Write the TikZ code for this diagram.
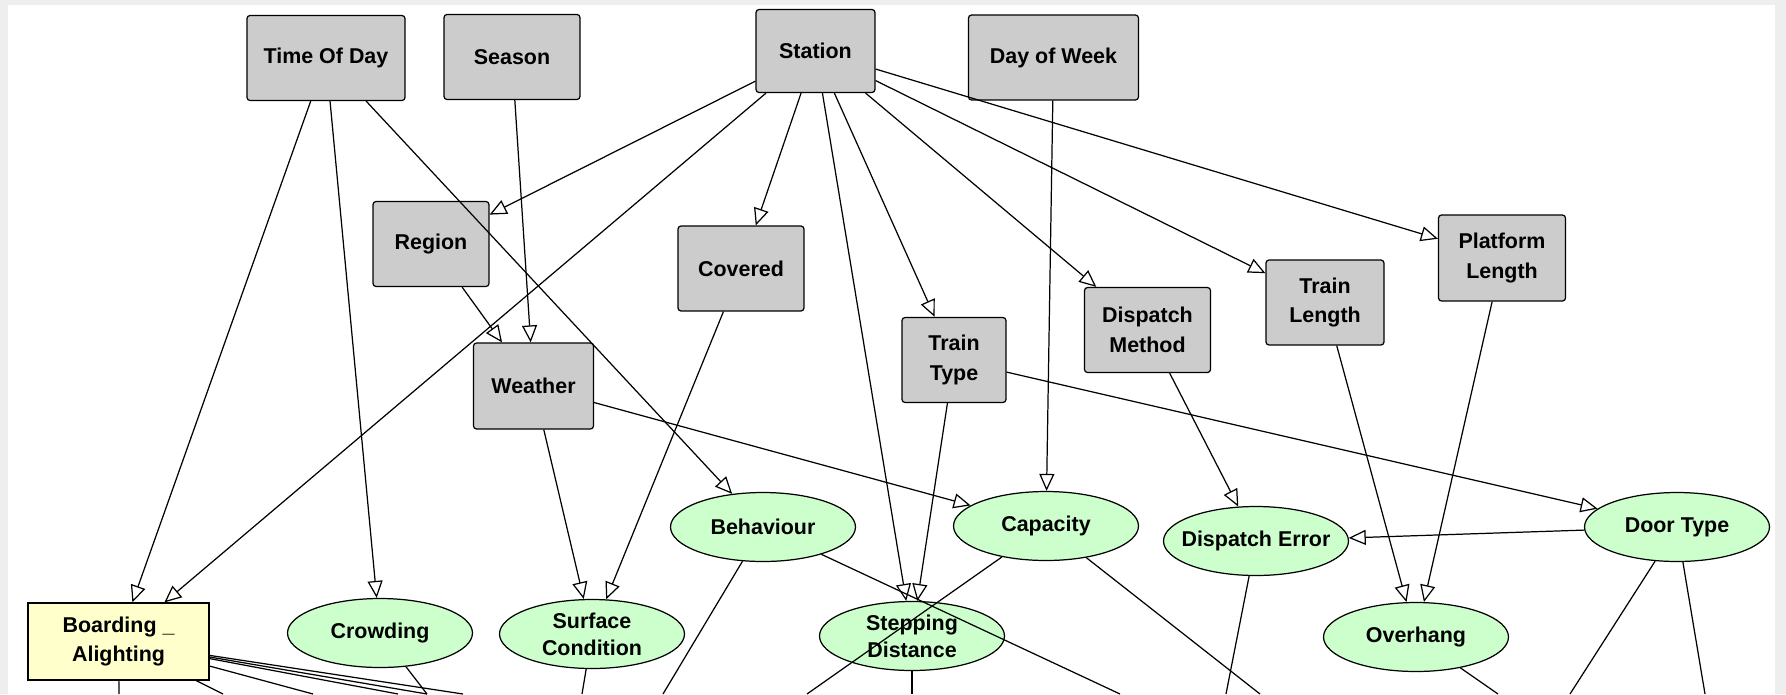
\documentclass[tikz,border=0pt]{standalone}
\usepackage{fontspec}
\setmainfont{Liberation Sans}
\usetikzlibrary{arrows.meta, shapes.geometric}
\definecolor{boxgrey}{RGB}{204,204,204}
\definecolor{mygreen}{RGB}{204,255,204}
\definecolor{myyellow}{RGB}{255,255,204}
\definecolor{framegrey}{RGB}{238,238,238}
\tikzset{>={Triangle[open, length=0.34cm, width=0.3cm]}}
\tikzset{
  cause/.style = {draw, line width=0.7pt, fill=boxgrey, rounded corners=0.06cm, inner sep=0pt,
    minimum height=1.7cm, align=center, font=\bfseries\fontsize{12.2}{17}\selectfont},
  query/.style = {draw, line width=0.7pt, fill=myyellow, inner sep=0pt, minimum width=3.62cm,
    minimum height=1.54cm, align=center, font=\bfseries\fontsize{12.2}{16.2}\selectfont},
  effect/.style = {draw, line width=0.7pt, fill=mygreen, ellipse, inner xsep=-0.5cm, inner ysep=0pt,
    minimum width=3.7cm, minimum height=1.38cm, align=center, font=\bfseries\fontsize{12.2}{15.2}\selectfont},
  link/.style = {line width=0.7pt}
}

\begin{document}
\begin{tikzpicture}[x=0.02cm, y=-0.02cm]
\useasboundingbox (0,0) rectangle (1786,694);
\fill[framegrey] (0,0) rectangle (1786,694);
\fill[white] (8,5) rectangle (1775,694);

% top row
\node[cause, minimum width=3.16cm] (tod) at (326,58) {Time Of Day};
\node[cause, minimum width=2.72cm] (season) at (512,57) {Season};
\node[cause, minimum width=2.38cm, minimum height=1.66cm] (station) at (815.5,51) {Station};
\node[cause, minimum width=3.4cm] (dow) at (1053.5,57.5) {Day of Week};

% second row
\node[cause, minimum width=2.32cm] (region) at (431,244) {Region};
\node[cause, minimum width=2.52cm] (covered) at (741,268.5) {Covered};
\node[cause, minimum width=2.4cm, minimum height=1.72cm] (weather) at (533.5,386) {Weather};
\node[cause, minimum width=2.08cm] (ttype) at (954,360) {Train\\Type};
\node[cause, minimum width=2.52cm] (dmethod) at (1147.5,330) {Dispatch\\Method};
\node[cause, minimum width=2.36cm] (tlength) at (1325,302.5) {Train\\Length};
\node[cause, minimum width=2.54cm, minimum height=1.72cm] (plength) at (1502,258) {Platform\\Length};

% lower row
\node[query] (board) at (118.5,641.5) {Boarding \_\\Alighting};
\node[effect] (crowd) at (380,633) {Crowding};
\node[effect] (surface) at (592,634) {Surface\\Condition};
\node[effect] (behav) at (763,527) {Behaviour};
\node[effect] (capac) at (1046,526) {Capacity};
\node[effect] (stepd) at (912,636) {Stepping\\Distance};
\node[effect] (derror) at (1256,541) {Dispatch Error};
\node[effect] (door) at (1677,527) {Door Type};
\node[effect] (overhang) at (1416,637) {Overhang};

\draw[->, link] (tod) -- (board);
\draw[->, link] (tod) -- (crowd);
\draw[->, link] (tod) -- (behav);
\draw[->, link] (season) -- (weather);
\draw[->, link] (region) -- (weather);
\draw[->, link] (station) -- (region);
\draw[->, link] (station) -- (board);
\draw[->, link] (station) -- (covered);
\draw[->, link] (station) -- (stepd);
\draw[->, link] (station) -- (ttype);
\draw[->, link] (station) -- (dmethod);
\draw[->, link] (station) -- (tlength);
\draw[->, link] (station) -- (plength);
\draw[->, link] (dow) -- (capac);
\draw[->, link] (covered) -- (surface);
\draw[->, link] (weather) -- (surface);
\draw[->, link] (weather) -- (capac);
\draw[->, link] (ttype) -- (stepd);
\draw[->, link] (ttype) -- (door);
\draw[->, link] (dmethod) -- (derror);
\draw[->, link] (tlength) -- (overhang);
\draw[->, link] (plength) -- (overhang);
\draw[->, link] (door) -- (derror);

% links running off the bottom edge
\coordinate (b1) at (119,694);
\coordinate (b2) at (223,694);
\coordinate (b3) at (313,694);
\coordinate (b4) at (427,694);
\coordinate (b5) at (398,694);
\coordinate (b6) at (463,694);
\coordinate (s1) at (582,694);
\coordinate (h1) at (663,694);
\coordinate (h2) at (1120,694);
\coordinate (k1) at (807,694);
\coordinate (k2) at (1260,694);
\coordinate (d1) at (912,694);
\coordinate (e1) at (1226,694);
\coordinate (o1) at (1498,694);
\coordinate (t1) at (1570,694);
\coordinate (t2) at (1705,694);

\draw[link] (board) -- (b1);
\draw[link] (board) -- (b2);
\draw[link] (board) -- (b3);
\draw[link] (board) -- (b4);
\draw[link] (board) -- (b5);
\draw[link] (board) -- (b6);
\draw[link] (crowd) -- (b4);
\draw[link] (surface) -- (s1);
\draw[link] (behav) -- (h1);
\draw[link] (behav) -- (h2);
\draw[link] (capac) -- (k1);
\draw[link] (capac) -- (k2);
\draw[link] (stepd) -- (d1);
\draw[link] (derror) -- (e1);
\draw[link] (overhang) -- (o1);
\draw[link] (door) -- (t1);
\draw[link] (door) -- (t2);
\end{tikzpicture}
\end{document}
